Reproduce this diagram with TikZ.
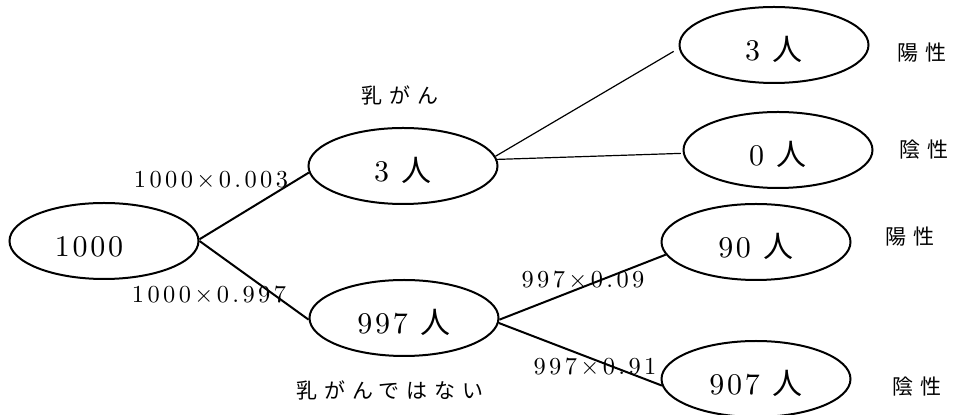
\documentclass[tikz,border=0pt]{standalone}
\usepackage{fontspec}
\newfontfamily\numfont{lmroman10-regular.otf}[LetterSpace=9]
\newfontfamily\probfont{lmroman10-regular.otf}[LetterSpace=14]
\newfontfamily\jpfont{Noto Sans CJK JP}[LetterSpace=33]
\usetikzlibrary{shapes.geometric}

\begin{document}
\begin{tikzpicture}[x=0.5pt,y=-0.5pt,
        oval/.style={draw,line width=1pt,ellipse,minimum width=94.5pt,minimum height=38pt,
            inner sep=0pt,text height=15.6pt,text depth=0pt,font=\numfont\fontsize{15}{17}\selectfont},
        branch/.style={line width=1pt},
        twig/.style={line width=0.6pt},
        prob/.style={inner sep=0pt,font=\probfont\fontsize{12.2}{14}\selectfont},
        tag/.style={inner sep=0pt,font=\jpfont\fontsize{10.5}{12}\selectfont}]
            \useasboundingbox (0,0) rectangle (957,415);
            % people at each stage
            \node[oval] (total) at (104,241) {1000\hspace*{15pt}};
            \node[oval] (cancer) at (403,166) {3 {\jpfont 人}};
            \node[oval] (healthy) at (404,318) {997 {\jpfont 人}};
            \node[oval] (cpos) at (774,45) {3 {\jpfont 人}};
            \node[oval] (cneg) at (778,150) {0 {\jpfont 人}};
            \node[oval] (hpos) at (756,242) {90 {\jpfont 人}};
            \node[oval] (hneg) at (756,379) {907 {\jpfont 人}};
            % branches
            \draw[branch] (total.1)--(cancer.184);
            \draw[branch] (total.east)--(healthy.181);
            \draw[twig,shorten >=3pt] (cancer.6)--(cpos.182);
            \draw[twig,shorten >=1pt] (cancer.4)--(cneg.182);
            \draw[branch] (healthy.359)--(hpos.188);
            \draw[branch] (healthy.357)--(hneg.184);
            % products on the branches
            \node[prob] (p1) at (211,180) {1000×0.003};
            \node[prob] (p2) at (209,295) {1000×0.997};
            \node[prob] (p3) at (583,280) {997×0.09};
            \node[prob] (p4) at (595,367) {997×0.91};
            % group and test labels
            \node[tag] (t1) at (400,95) {乳がん};
            \node[tag] (t2) at (390,390) {乳がんではない};
            \node[tag] (t3) at (922,53) {陽性};
            \node[tag] (t4) at (924,150) {陰性};
            \node[tag] (t5) at (910,237) {陽性};
            \node[tag] (t6) at (917,387) {陰性};
        \end{tikzpicture}
\end{document}
